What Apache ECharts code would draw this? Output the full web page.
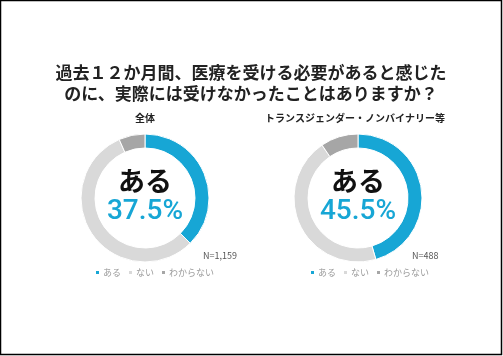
<!DOCTYPE html>
<html><head><meta charset="utf-8">
<script src="https://cdn.jsdelivr.net/npm/echarts@6/dist/echarts.min.js"></script>
<style>html,body{margin:0;padding:0;background:#fff}#c{width:503px;height:356px}</style>
</head><body><div id="c"></div>
<script>
const titleLines = ['過去１２か月間、医療を受ける必要があると感じた', 'のに、実際には受けなかったことはありますか？'];
const categories = ['ある', 'ない', 'わからない'];
const groupNames = ['全体', 'トランスジェンダー・ノンバイナリー等'];
const totalValues = [37.5, 55.9, 6.6];
const transValues = [45.5, 45.0, 9.5];
const sampleSizes = ['N=1,159', 'N=488'];
const colors = ['#17A6D5', '#D9D9D9', '#A6A6A6'];
const FONT = '"Noto Sans CJK JP", "Noto Sans", sans-serif';

const chart = echarts.init(document.getElementById('c'));
const centers = [[145, 198], [358, 198]];
const valueSets = [totalValues, transValues];

function pie(i) {
  return {
    type: 'pie', name: groupNames[i], center: centers[i], radius: [50, 64],
    startAngle: 90, clockwise: true, silent: true, animation: false,
    label: { show: false }, labelLine: { show: false },
    itemStyle: { borderColor: '#fff', borderWidth: 1 },
    data: categories.map((c, k) => ({ name: c, value: valueSets[i][k] }))
  };
}
function legend(left) {
  return {
    left: left, top: 268, padding: 0, itemWidth: 5, itemHeight: 5, itemGap: 6, icon: 'rect',
    selectedMode: false,
    textStyle: { color: '#9a9a9a', fontSize: 9, fontFamily: FONT, padding: [0, 0, 0, -2] },
    data: categories
  };
}
const pct = v => v.toFixed(1) + '%';
chart.setOption({
  color: colors,
  legend: [legend(94), legend(309)],
  series: [pie(0), pie(1)],
  graphic: [
    { type: 'rect', shape: { x: 0.5, y: 0.5, width: 501, height: 354 }, style: { fill: 'none', stroke: '#000', lineWidth: 1.5 }, silent: true },
    { type: 'text', x: 251, y: 73, style: { text: titleLines[0], font: 'bold 17px ' + FONT, fill: '#222', align: 'center', verticalAlign: 'middle' } },
    { type: 'text', x: 251, y: 94, style: { text: titleLines[1], font: 'bold 17px ' + FONT, fill: '#222', align: 'center', verticalAlign: 'middle' } },
    { type: 'text', x: 145, y: 118, style: { text: groupNames[0], font: 'bold 10px ' + FONT, fill: '#222', align: 'center', verticalAlign: 'middle' } },
    { type: 'text', x: 355, y: 118, style: { text: groupNames[1], font: 'bold 10px ' + FONT, fill: '#222', align: 'center', verticalAlign: 'middle' } },
    { type: 'text', x: 145, y: 181, style: { text: categories[0], font: 'bold 27px ' + FONT, fill: '#111', align: 'center', verticalAlign: 'middle' } },
    { type: 'text', x: 358, y: 181, style: { text: categories[0], font: 'bold 27px ' + FONT, fill: '#111', align: 'center', verticalAlign: 'middle' } },
    { type: 'text', x: 145, y: 212, style: { text: pct(totalValues[0]), font: '500 28px Roboto, ' + FONT, fill: colors[0], align: 'center', verticalAlign: 'middle' } },
    { type: 'text', x: 358, y: 212, style: { text: pct(transValues[0]), font: '500 28px Roboto, ' + FONT, fill: colors[0], align: 'center', verticalAlign: 'middle' } },
    { type: 'text', x: 203, y: 256, style: { text: sampleSizes[0], font: '9px ' + FONT, fill: '#555', align: 'left', verticalAlign: 'middle' } },
    { type: 'text', x: 412, y: 256, style: { text: sampleSizes[1], font: '9px ' + FONT, fill: '#555', align: 'left', verticalAlign: 'middle' } }
  ]
});
</script></body></html>
